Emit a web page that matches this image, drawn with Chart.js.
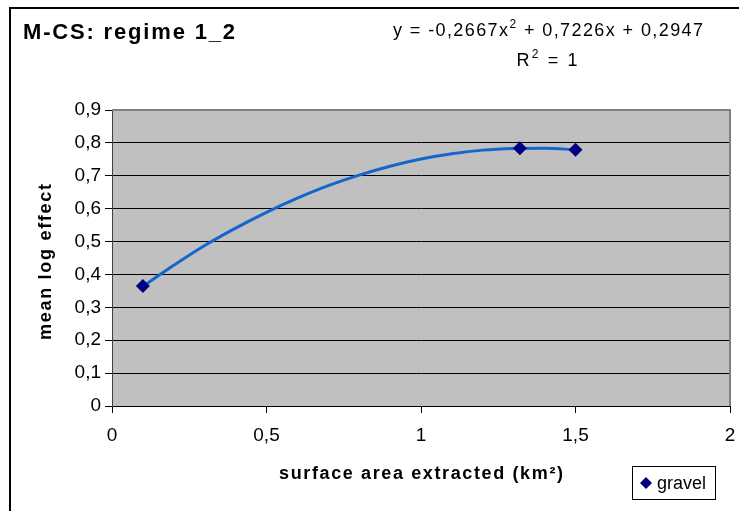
<!DOCTYPE html>
<html><head><meta charset="utf-8">
<script src="https://cdn.jsdelivr.net/npm/chart.js@4/dist/chart.umd.min.js"></script>
<style>html,body{margin:0;padding:0;background:#fff;overflow:hidden}#wrap{width:739px;height:511px;position:relative}</style>
</head><body><div id="wrap"><canvas id="c" width="739" height="511"></canvas></div>
<script>
// ---- data ----
const gravelX = [0.1, 1.32, 1.5];
const gravelY = [0.365, 0.784, 0.779];
const trendX = [0.1, 0.2, 0.3, 0.4, 0.5, 0.6, 0.7, 0.8, 0.9, 1.0, 1.1, 1.2, 1.3, 1.4, 1.5];
const trendY = [0.364, 0.428, 0.488, 0.541, 0.589, 0.632, 0.670, 0.702, 0.729, 0.751, 0.767, 0.778, 0.783, 0.784, 0.779];
const xTicks = [0, 0.5, 1, 1.5, 2];
const yTicks = [0, 0.1, 0.2, 0.3, 0.4, 0.5, 0.6, 0.7, 0.8, 0.9];
const chartTitle = 'M-CS: regime 1_2';
const xTitle = 'surface area extracted (km²)';
const yTitle = 'mean log effect';
const seriesName = 'gravel';
const eqPart1 = 'y = -0,2667x';
const eqSup = '2';
const eqPart2 = ' + 0,7226x + 0,2947';
const r2Text = ['R', '2', ' = 1'];

const FONT = '"Liberation Sans", Arial, sans-serif';
const comma = v => String(v).replace('.', ',');

function spacedText(ctx, text, x, y, font, targetW, align) {
  ctx.save();
  ctx.font = font;
  ctx.letterSpacing = '0px';
  const w = ctx.measureText(text).width;
  const n = text.length;
  let sp = targetW ? Math.max(0, (targetW - w) / Math.max(1, n - 1)) : 0;
  ctx.letterSpacing = sp + 'px';
  const total = w + sp * (n - 1);
  let sx = x;
  if (align === 'center') sx = x - total / 2;
  ctx.textAlign = 'left';
  ctx.textBaseline = 'middle';
  ctx.fillText(text, sx, y);
  ctx.restore();
}

function eqText(ctx, pieces, cx, y, size, supSize, targetW) {
  ctx.save();
  ctx.textBaseline = 'middle';
  ctx.textAlign = 'left';
  let w = 0, n = 0;
  pieces.forEach(([t, sup]) => {
    ctx.font = (sup ? supSize : size) + 'px ' + FONT;
    ctx.letterSpacing = '0px';
    w += ctx.measureText(t).width; n += t.length;
  });
  const sp = Math.max(0, (targetW - w) / Math.max(1, n - 1));
  let x = cx - (w + sp * (n - 1)) / 2;
  pieces.forEach(([t, sup]) => {
    ctx.font = (sup ? supSize : size) + 'px ' + FONT;
    ctx.letterSpacing = sp + 'px';
    ctx.fillText(t, x, sup ? y - 6 : y);
    ctx.letterSpacing = '0px';
    x += ctx.measureText(t).width + sp * t.length;
  });
  ctx.restore();
}

const deco = {
  id: 'deco',
  beforeDraw(chart) {
    const {ctx, chartArea: a} = chart;
    ctx.save();
    ctx.fillStyle = '#fff';
    ctx.fillRect(0, 0, chart.width, chart.height);
    ctx.fillStyle = '#C0C0C0';
    ctx.fillRect(a.left, a.top, a.right - a.left, a.bottom - a.top);
    ctx.restore();
  },
  afterDraw(chart) {
    const {ctx, chartArea: a} = chart;
    ctx.save();
    ctx.strokeStyle = '#808080';
    ctx.lineWidth = 2;
    ctx.beginPath();
    ctx.moveTo(a.left, a.top);
    ctx.lineTo(a.right, a.top);
    ctx.lineTo(a.right, a.bottom);
    ctx.stroke();
    ctx.strokeStyle = '#000';
    ctx.lineWidth = 2;
    ctx.strokeRect(10, 8, 800, 600);
    ctx.fillStyle = '#000';
    spacedText(ctx, chartTitle, 23, 33, 'bold 22px ' + FONT, 212, 'left');
    spacedText(ctx, xTitle, 421, 474, 'bold 18px ' + FONT, 284, 'center');
    ctx.save();
    ctx.translate(46, 262);
    ctx.rotate(-Math.PI / 2);
    spacedText(ctx, yTitle, 0, 0, 'bold 18px ' + FONT, 156, 'center');
    ctx.restore();
    eqText(ctx, [[eqPart1, false], [eqSup, true], [eqPart2, false]], 548, 31, 18, 12, 310);
    eqText(ctx, [[r2Text[0], false], [r2Text[1], true], [r2Text[2], false]], 547, 61, 18, 12, 61);
    ctx.strokeStyle = '#000';
    ctx.lineWidth = 1;
    ctx.strokeRect(632.5, 466.5, 83, 33);
    ctx.fillStyle = '#000080';
    ctx.beginPath();
    ctx.moveTo(646, 477); ctx.lineTo(652, 483); ctx.lineTo(646, 489); ctx.lineTo(640, 483);
    ctx.closePath(); ctx.fill();
    ctx.fillStyle = '#000';
    ctx.font = '18px ' + FONT;
    ctx.textAlign = 'left';
    ctx.textBaseline = 'middle';
    ctx.fillText(seriesName, 657, 484);
    ctx.restore();
  }
};

new Chart(document.getElementById('c'), {
  type: 'scatter',
  data: {
    datasets: [
      {
        label: seriesName,
        data: gravelX.map((x, i) => ({x, y: gravelY[i]})),
        pointStyle: 'rectRot',
        pointRadius: 7,
        pointBackgroundColor: '#000080',
        pointBorderColor: '#000080',
        pointBorderWidth: 0,
        showLine: false,
        order: 0
      },
      {
        label: 'trend',
        data: trendX.map((x, i) => ({x, y: trendY[i]})),
        showLine: true,
        borderColor: '#1466CC',
        borderWidth: 3,
        pointRadius: 0,
        cubicInterpolationMode: 'monotone',
        order: 1
      }
    ]
  },
  options: {
    responsive: false,
    animation: false,
    devicePixelRatio: 1,
    layout: {padding: {left: 0, top: 110, right: 9, bottom: 0}},
    plugins: {legend: {display: false}, tooltip: {enabled: false}, title: {display: false}},
    scales: {
      x: {
        type: 'linear', min: 0, max: 2,
        afterBuildTicks: s => { s.ticks = xTicks.map(v => ({value: v})); },
        afterFit: s => { s.height = 105; s.paddingLeft = 0; s.paddingRight = 0; },
        grid: {drawOnChartArea: false, color: '#000', tickLength: 7, lineWidth: 1},
        border: {display: true, color: '#000', width: 1},
        ticks: {color: '#000', font: {family: FONT, size: 19}, padding: 11, callback: v => comma(v), maxRotation: 0}
      },
      y: {
        min: 0, max: 0.9,
        afterBuildTicks: s => { s.ticks = yTicks.map(v => ({value: v})); },
        afterFit: s => { s.width = 112; s.paddingTop = 0; s.paddingBottom = 0; },
        grid: {color: '#000', tickLength: 7, lineWidth: 1},
        border: {display: true, color: '#404040', width: 1},
        ticks: {color: '#000', font: {family: FONT, size: 19}, padding: 4, callback: v => comma(v)}
      }
    }
  },
  plugins: [deco]
});
</script>
</body></html>
